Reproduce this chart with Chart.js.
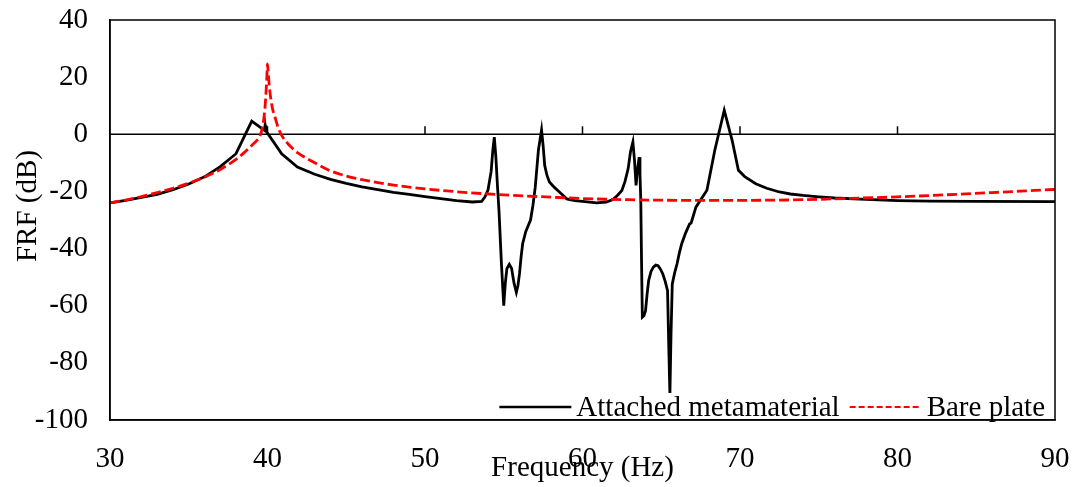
<!DOCTYPE html>
<html>
<head>
<meta charset="utf-8">
<script src="https://cdn.jsdelivr.net/npm/chart.js@4.4.0/dist/chart.umd.min.js"></script>
<style>
  html, body { margin: 0; padding: 0; background: #fff; }
  #wrap { width: 1075px; height: 487px; }
</style>
</head>
<body>
<div id="wrap"><canvas id="frfChart" width="1075" height="487"></canvas></div>
<script>
// Attached metamaterial: frequency (Hz) and FRF (dB)
const metaFreq = [30, 31, 32, 33, 34, 35, 36, 37, 38, 39, 39.8, 39.85, 39.9, 40.9, 41.9, 43, 44, 45, 46, 47, 48, 49, 50,
    51, 52, 53, 53.6, 53.8, 54.0, 54.2, 54.3, 54.4, 54.5, 54.6, 54.7, 54.85, 55.0, 55.1, 55.2, 55.35, 55.5, 55.65,
    55.8, 55.9, 56.0, 56.1, 56.2, 56.4, 56.7, 56.85, 57.0, 57.2, 57.4, 57.5, 57.6, 57.75, 57.9, 58.2, 58.5, 59.0,
    59.5, 60, 60.9, 61.5, 61.9, 62.2, 62.5, 62.7, 62.9, 63.05, 63.2, 63.3, 63.4, 63.5, 63.6, 63.65, 63.7, 63.75,
    63.8, 63.9, 64.0, 64.1, 64.2, 64.35, 64.5, 64.65, 64.8, 64.95, 65.1, 65.25, 65.4, 65.48, 65.55, 65.62, 65.7,
    65.85, 66.0, 66.15, 66.3, 66.55, 66.8, 66.9, 67.2, 67.9, 68.4, 69.0, 69.5, 69.9, 70.3, 71.0, 71.7, 72.5,
    73.2, 74, 75, 76, 78, 80, 82, 85, 90];
const metaFrf = [-24, -23.1, -22.1, -21, -19.4, -17.4, -14.9, -11.3, -6.8, 4.6, 1.4, 3.2, 1.2, -6.8, -11.5, -14, -15.8, -17.2, -18.4, -19.4, -20.3, -21, -21.8,
    -22.5, -23.2, -23.7, -23.5, -22, -19.5, -13, -6, -1, -8, -18, -27, -45, -60, -52, -47, -45.5, -47, -52,
    -55.3, -53, -48.8, -43, -38.3, -34, -30, -25, -18.5, -5.6, 1.5, -4, -10.9, -14.5, -16.7, -18.5, -20, -22.6,
    -23.2, -23.5, -24, -23.7, -22.9, -21.5, -19.7, -16.5, -12, -6, -2.7, -9, -17.9, -12, -8, -14, -23, -45,
    -64, -63.5, -61.8, -56, -51.2, -48, -46.5, -45.8, -46, -47.2, -48.9, -51.5, -54.7, -75, -91, -70, -52.4,
    -48.5, -45.4, -41.5, -38.3, -34.5, -31.4, -31, -25.5, -19.6, -5.6, 8.4, -2.1, -12.6, -14.8, -17.3, -18.9, -20.2,
    -20.9, -21.4, -21.9, -22.3, -22.8, -23.2, -23.4, -23.5, -23.6];

// Bare plate
const bareFreq = [30, 31, 32, 33, 34, 35, 36, 37, 38, 38.5, 39, 39.3, 39.5, 39.7, 39.85, 39.95, 40, 40.05, 40.15, 40.3,
    40.5, 40.7, 41, 41.3, 41.6, 42, 42.5, 43, 44, 45, 46, 47, 48, 49, 50, 52, 55, 58, 60, 63, 66, 70, 73, 76,
    80, 83, 86, 90];
const bareFrf = [-24, -23, -21.8, -20.4, -18.9, -17.1, -15, -12.3, -8.8, -6.5, -3.9, -2.3, -0.8, 3, 10, 19, 24.6, 21, 15, 9.5,
    5.5, 2, -1.3, -3.3, -5, -6.8, -8.5, -10, -12.8, -14.6, -15.9, -16.9, -17.8, -18.5, -19.1, -20.1, -21.2, -22, -22.5, -22.9, -23.1, -23.1, -23, -22.6,
    -21.9, -21.2, -20.4, -19.3];

const xTicks = [30, 40, 50, 60, 70, 80, 90];
const yTicks = [40, 20, 0, -20, -40, -60, -80, -100];

const seriesNames = ['Attached metamaterial', 'Bare plate'];
const yTitle = 'FRF (dB)';

const serif = '"Liberation Serif", "Times New Roman", serif';

function toPoints(xs, ys) {
    return xs.map((x, i) => ({ x: x, y: ys[i] }));
}

// Plot frame, zero line with its ticks, y title and the in-plot legend
const framePlugin = {
    id: 'frame',
    beforeDatasetsDraw(chart) {
        const ctx = chart.ctx;
        const area = chart.chartArea;
        const xs = chart.scales.x;
        const ys = chart.scales.y;
        const y0 = ys.getPixelForValue(0);
        ctx.save();
        ctx.strokeStyle = '#000';
        ctx.lineWidth = 1.5;
        ctx.beginPath();
        ctx.moveTo(area.left, y0);
        ctx.lineTo(area.right, y0);
        xTicks.slice(1, -1).forEach(v => {
            const px = xs.getPixelForValue(v);
            ctx.moveTo(px, y0);
            ctx.lineTo(px, y0 - 8);
        });
        ctx.stroke();
        ctx.restore();
    },
    afterDraw(chart) {
        const ctx = chart.ctx;
        const area = chart.chartArea;
        ctx.save();
        ctx.font = '29px ' + serif;

        // y axis title, sits a little above the middle like the original
        ctx.save();
        ctx.translate(28, area.top + (area.bottom - area.top) * 0.465);
        ctx.rotate(-Math.PI / 2);
        ctx.textAlign = 'center';
        ctx.textBaseline = 'middle';
        ctx.fillStyle = '#000';
        ctx.fillText(yTitle, 0, 0);
        ctx.restore();

        const sample = 72;
        const gap = 5;
        const itemGap = 10;
        const w0 = ctx.measureText(seriesNames[0]).width;
        const w1 = ctx.measureText(seriesNames[1]).width;
        const total = sample + gap + w0 + itemGap + sample + gap + w1;
        const right = area.right - 10;
        const left = right - total;
        const cy = area.bottom - 13;
        ctx.fillStyle = '#fff';
        ctx.fillRect(left - 6, area.bottom - 27, total + 12, 26);

        ctx.textBaseline = 'middle';
        ctx.fillStyle = '#000';
        let x = left;
        ctx.strokeStyle = '#000';
        ctx.lineWidth = 2.5;
        ctx.beginPath();
        ctx.moveTo(x, cy);
        ctx.lineTo(x + sample, cy);
        ctx.stroke();
        x += sample + gap;
        ctx.fillText(seriesNames[0], x, cy + 1);
        x += w0 + itemGap;
        ctx.strokeStyle = '#ff0000';
        ctx.lineWidth = 2;
        ctx.setLineDash([6, 3]);
        ctx.beginPath();
        ctx.moveTo(x, cy);
        ctx.lineTo(x + sample, cy);
        ctx.stroke();
        ctx.setLineDash([]);
        x += sample + gap;
        ctx.fillText(seriesNames[1], x, cy + 1);

        ctx.strokeStyle = '#000';
        ctx.lineWidth = 1.5;
        ctx.strokeRect(area.left, area.top, area.right - area.left, area.bottom - area.top);
        ctx.restore();
    }
};

const ctx = document.getElementById('frfChart').getContext('2d');
new Chart(ctx, {
    type: 'line',
    data: {
        datasets: [{
            label: seriesNames[0],
            data: toPoints(metaFreq, metaFrf),
            borderColor: '#000',
            borderWidth: 2.8,
            pointRadius: 0,
            tension: 0,
            fill: false,
            order: 1
        }, {
            label: seriesNames[1],
            data: toPoints(bareFreq, bareFrf),
            borderColor: '#ff0000',
            borderWidth: 2.8,
            borderDash: [10, 4],
            pointRadius: 0,
            cubicInterpolationMode: 'monotone',
            fill: false,
            order: 0
        }]
    },
    options: {
        responsive: false,
        animation: false,
        events: [],
        layout: { padding: { left: 0, right: 20, top: 20, bottom: 0 } },
        plugins: {
            legend: { display: false },
            tooltip: { enabled: false }
        },
        scales: {
            x: {
                type: 'linear',
                min: 30,
                max: 90,
                afterBuildTicks: scale => { scale.ticks = xTicks.map(v => ({ value: v })); },
                afterFit: scale => {
                    scale.height = 67;
                    scale.paddingLeft = 0;
                    scale.paddingRight = 0;
                },
                grid: { display: false, drawTicks: false },
                border: { display: true, color: '#000', width: 1.5 },
                ticks: {
                    color: '#000',
                    padding: 22,
                    maxRotation: 0,
                    font: { family: serif, size: 29 }
                },
                title: {
                    display: true,
                    text: 'Frequency (Hz)',
                    color: '#000',
                    padding: { top: 0, bottom: 1 },
                    font: { family: serif, size: 29 }
                }
            },
            y: {
                min: -100,
                max: 40,
                afterBuildTicks: scale => { scale.ticks = yTicks.map(v => ({ value: v })); },
                afterFit: scale => {
                    scale.width = 110;
                    scale.paddingTop = 0;
                    scale.paddingBottom = 0;
                },
                grid: { display: false, drawTicks: false },
                border: { display: true, color: '#000', width: 1.5 },
                ticks: {
                    color: '#000',
                    padding: 22,
                    font: { family: serif, size: 29 }
                },
                title: { display: false }
            }
        }
    },
    plugins: [framePlugin]
});
</script>
</body>
</html>
